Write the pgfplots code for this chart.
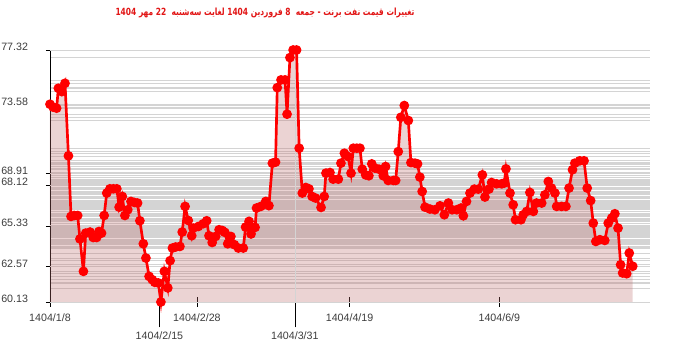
\documentclass[border=0pt]{standalone}
\usepackage{pgfplots}
\usepackage{pgfplotstable}
\usepackage{fontspec}
\pgfplotsset{compat=1.18}
\setmainfont{Liberation Sans}
\newfontfamily\arabicfont[Script=Arabic, FakeStretch=0.76]{DejaVu Sans}
\TeXXeTstate=1
\definecolor{lineRed}{RGB}{255,0,0}
\definecolor{titleRed}{RGB}{225,20,20}
\definecolor{fillRed}{RGB}{190,110,110}
\definecolor{tickText}{RGB}{60,60,60}
\definecolor{gridGray}{RGB}{212,212,212}
\pgfplotstableread{
d v
0.0 73.62
1.1 73.42
2.3 73.35
2.9 74.71
4.1 74.48
5.2 75.05
6.4 70.10
7.3 65.97
8.4 66.03
9.6 66.03
10.4 64.43
11.6 62.22
12.4 64.83
13.9 64.90
15.0 64.53
16.2 64.53
17.0 64.94
17.9 64.83
18.8 66.03
19.7 67.56
20.8 67.85
22.0 67.85
23.2 67.85
24.0 66.60
25.1 67.33
26.0 66.03
27.0 66.42
28.1 66.99
29.3 66.92
30.4 66.88
31.2 65.67
32.4 64.10
33.3 63.13
34.4 61.88
35.5 61.65
36.4 61.47
37.6 61.43
38.5 60.13
39.7 62.22
40.9 61.09
41.7 62.95
42.5 63.81
43.6 63.88
45.1 63.92
45.9 64.90
46.9 66.65
48.0 65.69
49.2 64.65
49.7 65.17
51.5 65.28
53.2 65.47
54.4 65.67
55.2 64.65
56.3 64.19
57.5 64.60
58.7 65.06
59.8 65.01
60.7 64.88
61.7 64.10
62.8 64.60
64.0 64.04
65.4 63.81
67.1 63.81
67.9 65.24
69.1 65.63
69.8 64.77
71.2 65.22
71.7 66.54
73.2 66.65
74.9 66.99
76.0 66.70
77.2 69.60
78.3 69.67
78.9 74.75
80.2 75.28
81.6 75.28
82.3 72.94
83.3 76.80
84.4 77.32
85.6 77.32
86.5 70.62
87.6 67.56
88.8 67.94
89.9 67.85
91.0 67.33
92.2 67.22
94.1 66.58
95.2 67.33
95.8 68.92
97.2 68.96
98.3 68.51
100.1 68.51
101.0 69.60
102.2 70.28
103.5 70.05
104.5 68.92
105.3 70.62
106.5 70.62
107.6 70.62
108.4 69.19
109.6 68.80
110.7 68.74
111.7 69.55
112.8 69.26
114.2 69.19
115.1 69.15
115.7 68.74
116.5 69.37
117.4 68.42
119.2 68.42
120.0 68.42
120.9 70.39
121.8 72.73
123.0 73.53
124.4 72.51
125.3 69.64
126.7 69.60
127.6 69.55
128.4 68.65
129.2 67.67
130.2 66.60
131.9 66.47
133.6 66.42
135.4 66.69
136.9 66.08
138.3 66.88
139.6 66.42
141.2 66.42
142.7 66.54
143.5 66.01
144.6 66.99
145.8 67.56
147.3 67.83
148.7 67.83
150.1 68.80
151.0 67.29
152.4 67.83
153.3 68.28
155.0 68.19
156.8 68.19
157.7 68.24
158.3 69.21
159.7 67.56
160.8 66.76
161.6 65.74
163.5 65.74
164.3 66.08
165.5 66.31
166.6 67.60
167.8 66.31
168.9 66.88
170.7 66.88
171.8 67.44
173.0 68.35
174.1 67.90
175.3 67.56
175.9 66.65
177.6 66.65
179.1 66.65
180.2 67.90
181.4 69.15
182.2 69.60
183.9 69.76
185.4 69.76
186.5 67.90
187.7 67.05
188.6 65.51
189.5 64.26
190.9 64.38
192.6 64.33
193.8 65.51
195.0 65.85
196.1 66.15
197.2 65.17
198.1 62.67
198.8 62.11
200.2 62.06
201.1 63.47
202.3 62.57
}\brent
\begin{document}
\begin{tikzpicture}
\useasboundingbox (0,0) rectangle (525pt,264pt);
\node[text=titleRed, font=\arabicfont\bfseries\fontsize{7.4}{9}\selectfont] at (198.75pt,254pt)
 {\beginR تغییرات قیمت نفت برنت - جمعه\ \ \beginL 8\endL{} فروردین \beginL 1404\endL{} لغایت سه‌شنبه\ \ \beginL 22\endL{} مهر \beginL 1404\endL\endR};
\begin{axis}[
  at={(37.5pt,37.5pt)}, anchor=south west,
  scale only axis, width=450pt, height=189pt,
  xmin=0, xmax=208.3, ymin=60.13, ymax=77.32,
  axis x line=bottom, axis y line=left,
  axis line style={-},
  x axis line style={draw={rgb,255:red,70;green,70;blue,70}},
  clip=false,
  ytick=data, yticklabels={}, ytick style={draw=none},
  ymajorgrids, grid style={gridGray, line width=0.5pt},
  extra y ticks={60.13,62.57,65.33,68.12,68.91,73.58,77.32},
  extra y tick labels={60.13,62.57,65.33,68.12,68.91,73.58,77.32},
  extra y tick style={ytick style={draw=black}, tick align=outside, major tick length=3pt,
     yticklabel style={xshift=-10pt, yshift=2pt}},
  xtick={0,51,104,156},
  xticklabels={1404/1/8,1404/2/28,1404/4/19,1404/6/9},
  xtick style={draw=black},
  xticklabel style={yshift=-1.5pt},
  tick align=center, major tick length=7.5pt,
  extra x ticks={38,85},
  extra x tick labels={1404/2/15,1404/3/31},
  extra x tick style={major tick length=19pt, tick align=outside, xmajorgrids=false,
     xticklabel style={yshift=2pt}},
  tick label style={font=\fontsize{8}{9}\selectfont, text=tickText},
]
\addplot[draw=none, fill=fillRed, fill opacity=0.3] table[x=d,y=v]{\brent} \closedcycle;
\draw[gridGray, line width=0.5pt] (axis cs:85,77.32) -- (axis cs:85,60.13);
\addplot[lineRed, line width=2pt, mark=*, mark size=2.6pt, mark options={fill=lineRed, draw=lineRed}] table[x=d,y=v]{\brent};
\end{axis}
\end{tikzpicture}
\end{document}
